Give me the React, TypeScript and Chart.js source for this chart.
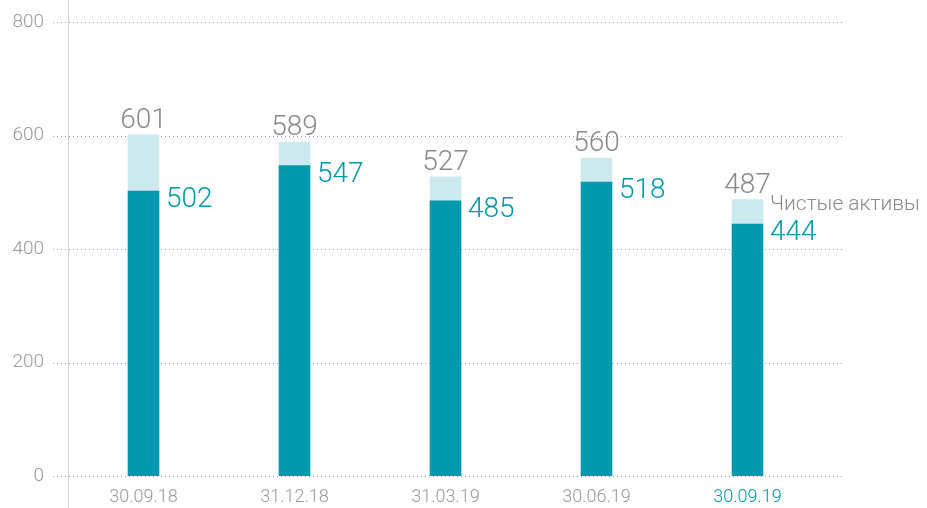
import React, { useEffect, useRef } from "react";
import { Chart, registerables } from "chart.js";
Chart.register(...registerables);

const categories = ["30.09.18", "31.12.18", "31.03.19", "30.06.19", "30.09.19"];
const totalAssets = [601, 589, 527, 560, 487];
const netAssets = [502, 547, 485, 518, 444];
const yTicks = [0, 200, 400, 600, 800];
const seriesLabel = "Чистые активы";

const DARK = "#0099AD";
const LIGHT = "#CCE9EE";
const GRAY = "#8a8a8a";
const FONT = "Roboto, 'Open Sans', sans-serif";

export default function App() {
  const ref = useRef<HTMLCanvasElement>(null);
  useEffect(() => {
    const canvas = ref.current!;
    const overlay = {
      id: "overlay",
      beforeDatasetsDraw(chart: any) {
        const ctx = chart.ctx;
        const y = chart.scales.y;
        const x = chart.scales.x;
        ctx.save();
        ctx.strokeStyle = "#9a9a9a";
        ctx.lineWidth = 1;
        ctx.setLineDash([1, 3]);
        yTicks.forEach((t) => {
          const py = Math.round(y.getPixelForValue(t)) + 0.5;
          ctx.beginPath();
          ctx.moveTo(53, py);
          ctx.lineTo(842, py);
          ctx.stroke();
        });
        ctx.setLineDash([]);
        ctx.strokeStyle = "#d8d8d8";
        ctx.beginPath();
        ctx.moveTo(68.5, 0);
        ctx.lineTo(68.5, chart.height);
        ctx.stroke();
        // y tick labels
        ctx.font = `300 19px ${FONT}`;
        ctx.fillStyle = "#999";
        ctx.textAlign = "right";
        ctx.textBaseline = "middle";
        yTicks.forEach((t) => {
          ctx.fillText(String(t), 44, y.getPixelForValue(t));
        });
        // x tick labels
        ctx.font = `300 18px ${FONT}`;
        ctx.textAlign = "center";
        categories.forEach((c, i) => {
          ctx.fillStyle = i === categories.length - 1 ? DARK : "#999";
          ctx.fillText(c, x.getPixelForValue(i), 497);
        });
        ctx.restore();
      },
      afterDatasetsDraw(chart: any) {
        const ctx = chart.ctx;
        const y = chart.scales.y;
        const meta = chart.getDatasetMeta(0);
        ctx.save();
        meta.data.forEach((bar: any, i: number) => {
          const cx = bar.x;
          const right = bar.x + bar.width / 2;
          const topTotal = y.getPixelForValue(totalAssets[i]);
          ctx.font = `300 28px ${FONT}`;
          ctx.fillStyle = GRAY;
          ctx.textAlign = "center";
          ctx.textBaseline = "alphabetic";
          ctx.fillText(String(totalAssets[i]), cx, topTotal - 7);
          const topNet = y.getPixelForValue(netAssets[i]);
          ctx.fillStyle = DARK;
          ctx.textAlign = "left";
          ctx.textBaseline = "middle";
          ctx.fillText(String(netAssets[i]), right + 7, topNet + 9);
          if (i === meta.data.length - 1) {
            ctx.font = `300 21px ${FONT}`;
            ctx.fillStyle = GRAY;
            ctx.fillText(seriesLabel, right + 7, (topTotal + topNet) / 2 - 7);
          }
        });
        ctx.restore();
      },
    };
    const chart = new Chart(canvas, {
      type: "bar",
      data: {
        labels: categories,
        datasets: [
          {
            label: seriesLabel,
            data: netAssets,
            backgroundColor: DARK,
            barThickness: 31,
          },
          {
            label: "Активы",
            data: totalAssets.map((v, i) => v - netAssets[i]),
            backgroundColor: LIGHT,
            barThickness: 31,
          },
        ],
      },
      options: {
        animation: false,
        responsive: true,
        maintainAspectRatio: false,
        layout: { padding: { left: 68, right: 104, top: 22, bottom: 32 } },
        plugins: { legend: { display: false }, tooltip: { enabled: false } },
        scales: {
          x: {
            display: false,
            stacked: true,
          },
          y: {
            display: false,
            stacked: true,
            min: 0,
            max: 800,
          },
        },
      },
      plugins: [overlay],
    });
    return () => chart.destroy();
  }, []);
  return (
    <div style={{ position: "fixed", left: 0, top: 0, width: 927, height: 508 }}>
      <canvas ref={ref} />
    </div>
  );
}
